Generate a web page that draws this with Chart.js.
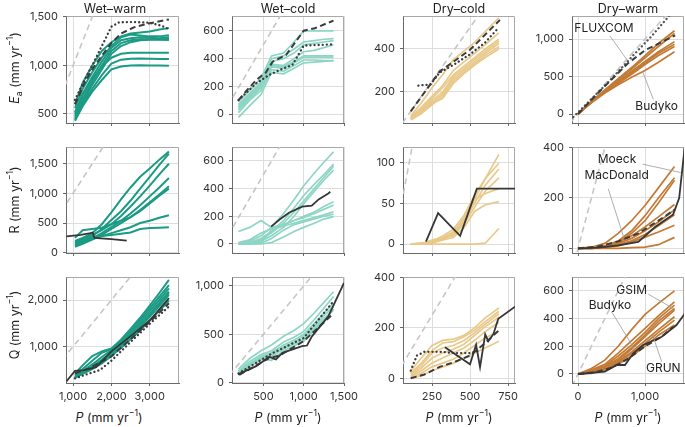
<!DOCTYPE html>
<html><head><meta charset="utf-8">
<script src="https://cdn.jsdelivr.net/npm/chart.js@4/dist/chart.umd.min.js"></script>
<style>
html,body{margin:0;padding:0;background:#fff;overflow:hidden;width:685px;height:427px;}
body{position:relative;font-family:Inter,'Open Sans','DejaVu Sans',sans-serif;color:#222;}
.cv{position:absolute;}
.t{position:absolute;font-size:12.5px;transform:translate(-50%,-50%);white-space:nowrap;}
.yl{position:absolute;font-size:12.5px;transform:translate(-50%,-50%) rotate(-90deg);white-space:nowrap;}
sup,sub{font-size:70%;line-height:0;}
</style></head><body>
<script>
// ---------- categories / ticks ----------
const COLUMNS = ['Wet\u2013warm','Wet\u2013cold','Dry\u2013cold','Dry\u2013warm'];
const X_TICKS = [[1000,2000,3000],[500,1000,1500],[250,500,750],[0,1000]];
const Y_TICKS = [
  [[500,1000,1500],[0,200,400,600],[200,400],[0,500,1000]],
  [[0,500,1000,1500],[0,200,400,600],[0,50,100],[0,200,400]],
  [[1000,2000],[0,500,1000],[0,200,400],[0,200,400,600]]
];
const X_RANGE = [[816,3763],[110,1500],[59,796],[-90,1582]];
const Y_RANGE = [
  [[407,1510],[-65,708],[56,553],[-120,1307]],
  [[-5,1783],[-65,700],[-11,119],[-18,402]],
  [[222,2493],[-3,1092],[-19,402],[-65,700]]
];

// ---------- P bins per climate ----------
const P_WW = [1050,1250,1500,1750,2000,2250,2500,2750,3000,3250,3500];
const P_WC = [190,330,470,600,750,880,1000,1130,1250,1370];
const P_DC = [110,180,250,320,390,460,530,600,690];
const P_DW = [0,200,400,600,800,1000,1200,1440];

// ---------- Ea ----------
const EA_WW = [
  [600,820,1000,1150,1240,1300,1330,1340,1350,1370,1385],
  [560,760,930,1080,1200,1290,1320,1310,1300,1300,1312],
  [520,710,880,1040,1180,1260,1280,1290,1285,1280,1290],
  [480,650,830,1000,1150,1230,1260,1270,1270,1270,1272],
  [460,620,800,960,1120,1200,1240,1260,1265,1265,1262],
  [500,690,860,990,1080,1120,1130,1132,1132,1132,1132],
  [440,600,760,900,1020,1060,1070,1072,1070,1066,1066],
  [430,580,730,850,960,990,1000,1002,1000,1000,998]
];
const EA_WW_DASH_P = [1050,1300,1500,1750,2000,2250,2600,3000,3500];
const EA_WW_DASH_V = [600,820,960,1100,1230,1330,1395,1435,1475];
const EA_WW_DOT_P = [1050,1300,1500,1750,2000,2200,2600,3000,3300,3500];
const EA_WW_DOT_V = [645,850,1000,1200,1400,1445,1448,1440,1410,1375];

const EA_WC = [
  [90,170,260,420,440,520,600,600,600,600],
  [70,150,230,400,420,470,520,530,540,545],
  [60,140,220,380,400,440,500,510,520,530],
  [50,130,210,360,350,400,450,460,480,500],
  [40,120,200,350,340,380,420,420,420,420],
  [30,110,190,340,330,370,410,410,410,410],
  [10,100,170,320,310,350,390,390,385,385],
  [-25,60,140,300,290,330,370,375,380,385]
];
const EA_WC_DASH_P = [190,290,410,530,615,780,1000,1140,1370];
const EA_WC_DASH_V = [100,168,245,300,378,426,602,620,675];
const EA_WC_DOT_P = [190,410,570,700,860,1000,1370];
const EA_WC_DOT_V = [100,221,282,318,355,494,503];

const EA_DC = [
  [90,150,220,280,350,390,430,480,545],
  [85,130,180,230,300,340,380,420,475],
  [80,120,170,220,280,320,360,400,445],
  [75,110,160,200,270,310,350,390,435],
  [80,115,150,190,260,300,340,380,425],
  [70,100,140,180,250,290,330,370,410],
  [75,105,145,170,240,285,325,360,400]
];
const EA_DC_DASH_P = [110,300,500,697];
const EA_DC_DASH_V = [110,295,396,535];
const EA_DC_DOT_P = [160,240,300,400,500,600,690];
const EA_DC_DOT_V = [230,235,290,330,375,430,500];

const EA_DW = [
  [0,170,320,470,620,780,940,1110],
  [0,165,310,460,600,750,900,1075],
  [0,160,300,440,570,700,830,965],
  [0,160,295,420,550,680,810,930],
  [0,155,290,410,530,660,780,900],
  [0,150,280,390,490,580,690,830]
];
const EA_DW_DASH_P = [0,250,500,750,1000,1250,1450];
const EA_DW_DASH_V = [0,235,460,680,850,960,1050];
const EA_DW_DOT_P = [-70,200,500,800,1100,1400];
const EA_DW_DOT_V = [-40,200,470,760,1040,1350];

// ---------- R ----------
const R_WW = [
  [200,250,330,480,680,900,1100,1280,1420,1570,1705],
  [150,200,280,400,550,700,880,1080,1280,1480,1670],
  [180,230,300,380,480,620,780,950,1130,1320,1500],
  [120,170,240,330,430,540,660,800,950,1100,1260],
  [100,150,220,300,400,500,600,720,850,980,1120],
  [250,380,400,420,480,540,600,700,830,960,1080],
  [130,170,230,280,330,380,430,500,540,590,633],
  [160,200,260,280,300,320,340,400,415,420,428]
];
const R_WW_SOLID_P = [830,1200,1450,1510,1560,2000,2400];
const R_WW_SOLID_V = [275,300,330,340,250,230,205];

const R_WC = [
  [90,120,170,120,140,170,200,230,270,305],
  [5,20,60,120,220,320,420,510,590,665],
  [0,10,40,90,170,260,350,430,500,576],
  [0,5,30,80,150,230,310,400,480,562],
  [0,0,20,60,120,200,290,380,460,533],
  [10,30,80,110,140,170,190,220,250,281],
  [0,5,10,100,130,150,170,190,210,233],
  [0,0,5,40,100,140,160,180,200,216],
  [0,0,0,10,50,90,120,150,180,197]
];
const R_WC_SOLID_P = [595,705,817,980,1100,1185,1305,1330];
const R_WC_SOLID_V = [125,178,226,269,276,322,365,377];

const R_DC = [
  [0,0,2,8,15,30,55,80,110],
  [0,1,3,10,18,35,60,80,99],
  [0,0,1,5,12,28,50,72,92],
  [0,0,5,8,10,25,45,65,81],
  [0,0,2,6,14,32,55,62,68],
  [0,1,3,5,8,20,40,48,52],
  [0,0,0,0,0,0,0,1,19]
];
const R_DC_SOLID_P = [210,290,435,545,800];
const R_DC_SOLID_V = [3,38,10,68,68];

const R_DW = [
  [0,5,20,60,110,170,240,325],
  [0,2,10,30,70,130,200,280],
  [0,0,5,25,60,110,180,270],
  [0,3,10,25,50,85,125,174],
  [0,0,5,20,40,70,105,153],
  [0,2,5,15,30,55,90,133],
  [0,0,3,10,25,45,65,92],
  [0,0,0,0,3,5,15,44]
];
const R_DW_SOLID_P = [0,300,600,900,1150,1420,1510,1600];
const R_DW_SOLID_V = [0,3,12,26,85,135,200,420];
const R_DW_DASH_P = [0,300,600,900,1200,1450];
const R_DW_DASH_V = [0,8,28,60,110,155];

// ---------- Q ----------
const Q_WW = [
  [420,600,800,900,960,1150,1380,1620,1880,2150,2430],
  [400,520,700,870,950,1120,1330,1570,1820,2070,2320],
  [380,480,620,780,930,1100,1300,1520,1760,2000,2250],
  [360,460,580,720,880,1060,1260,1470,1700,1940,2180],
  [340,440,550,680,840,1020,1220,1420,1640,1870,2110],
  [330,420,520,640,800,970,1160,1350,1560,1770,1990],
  [350,470,560,700,860,1040,1240,1450,1680,1920,2150]
];
const Q_WW_SOLID_P = [830,1050,1300,1600,2000,2600,3000,3500];
const Q_WW_SOLID_V = [260,480,500,560,900,1290,1560,2040];
const Q_WW_DASH_P = [1050,1400,2000,2500,3000,3500];
const Q_WW_DASH_V = [430,530,790,1160,1530,1930];
const Q_WW_DOT_P = [1050,1400,1700,2000,2500,3000,3500];
const Q_WW_DOT_V = [320,420,500,700,1100,1490,1860];

const Q_WC = [
  [140,250,330,390,480,540,610,720,830,940],
  [120,220,290,330,420,470,530,650,770,890],
  [110,200,270,310,390,440,500,610,720,820],
  [100,190,260,290,370,420,480,580,690,790],
  [90,180,250,270,350,400,450,560,660,750],
  [80,170,240,230,330,380,430,540,640,760]
];
const Q_WC_SOLID_P = [186,410,573,655,736,980,1041,1102,1305,1500];
const Q_WC_SOLID_V = [86,171,267,240,308,377,384,479,685,1030];
const Q_WC_DASH_P = [200,570,700,1000,1350];
const Q_WC_DASH_V = [80,255,280,430,700];
const Q_WC_DOT_P = [190,600,1000,1350];
const Q_WC_DOT_V = [96,300,462,822];

const Q_DC = [
  [30,80,130,150,155,170,200,240,279],
  [20,60,110,140,145,165,190,225,266],
  [15,50,100,120,130,150,180,215,256],
  [10,40,80,100,115,135,170,205,242],
  [5,30,60,80,100,120,150,185,222],
  [0,20,45,60,75,100,130,160,188],
  [0,10,30,45,60,80,100,120,147]
];
const Q_DC_SOLID_P = [335,500,540,566,600,620,653,686,796];
const Q_DC_SOLID_V = [123,55,133,44,174,147,174,236,284];
const Q_DC_DOT_P = [110,150,200,300,400,500,560];
const Q_DC_DOT_V = [30,90,105,105,100,100,110];
const Q_DC_DASH_P = [110,200,300,400,500,600,690];
const Q_DC_DASH_V = [0,15,45,65,90,140,190];

const Q_DW = [
  [0,40,100,200,320,430,510,600],
  [0,30,70,150,240,330,420,521],
  [0,25,60,130,210,300,400,497],
  [0,20,55,110,190,280,380,473],
  [0,15,50,100,180,270,360,461],
  [0,10,40,90,160,240,320,413],
  [0,10,35,80,150,220,300,389],
  [0,5,30,70,130,200,280,353]
];
const Q_DW_SOLID_P = [0,400,580,700,825,975,1250,1470,1600];
const Q_DW_SOLID_V = [0,17,65,65,149,209,269,353,440];
const Q_DW_DASH_P = [0,250,500,750,1000,1250,1420];
const Q_DW_DASH_V = [0,12,45,110,200,270,340];

// ---------- annotation labels (data coordinates) ----------
const ANN_EA_DW = [
  {text:'FLUXCOM', x:388, y:1143, x1:477, y1:1040, x2:726, y2:729},
  {text:'Budyko', x:1174, y:107, x1:1124, y1:196, x2:965, y2:564}
];
const ANN_R_DW = [
  {text:'Moeck', x:582, y:351, x1:965, y1:334, x2:1532, y2:301},
  {text:'MacDonald', x:577, y:290, x1:452, y1:236, x2:686, y2:41}
];
const ANN_Q_DW = [
  {text:'GSIM', x:801, y:605, x1:1049, y1:576, x2:1447, y2:466},
  {text:'Budyko', x:477, y:492, x1:502, y1:449, x2:835, y2:185},
  {text:'GRUN', x:1273, y:43, x1:1248, y1:89, x2:1114, y2:281}
];

// ---------- styling / layout ----------
const COLORS = ['#1b9a84','#8dd5c4','#e8c98a','#c27a35'];
const FONT = "Inter, 'Open Sans', 'DejaVu Sans', sans-serif";
const COL_L = [66,232,403,572], COL_R = [179,344,515,684];
const ROW_T = [16,147,277], ROW_B = [123,253,383];

const PANELS = [
  {r:0,c:0,p:P_WW,m:EA_WW,k:[[EA_WW_DASH_P,EA_WW_DASH_V,'dash'],[EA_WW_DOT_P,EA_WW_DOT_V,'dot']]},
  {r:0,c:1,p:P_WC,m:EA_WC,k:[[EA_WC_DASH_P,EA_WC_DASH_V,'dash'],[EA_WC_DOT_P,EA_WC_DOT_V,'dot']]},
  {r:0,c:2,p:P_DC,m:EA_DC,k:[[EA_DC_DASH_P,EA_DC_DASH_V,'dash'],[EA_DC_DOT_P,EA_DC_DOT_V,'dot']]},
  {r:0,c:3,p:P_DW,m:EA_DW,k:[[EA_DW_DASH_P,EA_DW_DASH_V,'dash'],[EA_DW_DOT_P,EA_DW_DOT_V,'dotg']],ann:ANN_EA_DW},
  {r:1,c:0,p:P_WW,m:R_WW,k:[[R_WW_SOLID_P,R_WW_SOLID_V,'solid']]},
  {r:1,c:1,p:P_WC,m:R_WC,k:[[R_WC_SOLID_P,R_WC_SOLID_V,'solid']]},
  {r:1,c:2,p:P_DC,m:R_DC,k:[[R_DC_SOLID_P,R_DC_SOLID_V,'solid']]},
  {r:1,c:3,p:P_DW,m:R_DW,k:[[R_DW_SOLID_P,R_DW_SOLID_V,'solid'],[R_DW_DASH_P,R_DW_DASH_V,'dash']],ann:ANN_R_DW},
  {r:2,c:0,p:P_WW,m:Q_WW,k:[[Q_WW_SOLID_P,Q_WW_SOLID_V,'solid'],[Q_WW_DASH_P,Q_WW_DASH_V,'dash'],[Q_WW_DOT_P,Q_WW_DOT_V,'dot']]},
  {r:2,c:1,p:P_WC,m:Q_WC,k:[[Q_WC_SOLID_P,Q_WC_SOLID_V,'solid'],[Q_WC_DASH_P,Q_WC_DASH_V,'dash'],[Q_WC_DOT_P,Q_WC_DOT_V,'dot']]},
  {r:2,c:2,p:P_DC,m:Q_DC,k:[[Q_DC_SOLID_P,Q_DC_SOLID_V,'solid'],[Q_DC_DASH_P,Q_DC_DASH_V,'dash'],[Q_DC_DOT_P,Q_DC_DOT_V,'dot']]},
  {r:2,c:3,p:P_DW,m:Q_DW,k:[[Q_DW_SOLID_P,Q_DW_SOLID_V,'solid'],[Q_DW_DASH_P,Q_DW_DASH_V,'dash']],ann:ANN_Q_DW}
];

const fmt = v => Number(v).toLocaleString('en-US');
const pts = (xs, ys) => xs.map((x,i) => ({x:x, y:ys[i]}));

const boxPlugin = {
  id:'box',
  beforeDatasetsDraw(chart){
    const a = chart.chartArea, ctx = chart.ctx;
    ctx.save(); ctx.strokeStyle = '#a8a8a8'; ctx.lineWidth = 1;
    ctx.beginPath();
    ctx.moveTo(Math.round(a.left)+0.5, Math.round(a.top)+0.5);
    ctx.lineTo(Math.round(a.right)-0.5, Math.round(a.top)+0.5);
    ctx.lineTo(Math.round(a.right)-0.5, Math.round(a.bottom));
    ctx.stroke(); ctx.restore();
  },
  afterDatasetsDraw(chart, args, opts){
    const list = opts.items || [];
    if (!list.length) return;
    const ctx = chart.ctx, xs = chart.scales.x, ys = chart.scales.y;
    ctx.save();
    ctx.strokeStyle = '#9a9a9a'; ctx.lineWidth = 0.8;
    list.forEach(a => {
      ctx.beginPath();
      ctx.moveTo(xs.getPixelForValue(a.x1), ys.getPixelForValue(a.y1));
      ctx.lineTo(xs.getPixelForValue(a.x2), ys.getPixelForValue(a.y2));
      ctx.stroke();
    });
    ctx.fillStyle = '#222'; ctx.font = '12px ' + FONT;
    ctx.textAlign = 'center'; ctx.textBaseline = 'middle';
    list.forEach(a => ctx.fillText(a.text, xs.getPixelForValue(a.x), ys.getPixelForValue(a.y)));
    ctx.restore();
  }
};

function makePanel(P){
  const r = P.r, c = P.c;
  const L = COL_L[c], R = COL_R[c], T = ROW_T[r], B = ROW_B[r];
  const padL = 4, yW = 42, padT = 6, padR = 16, padB = 2;
  const xH = r === 2 ? 22 : 6;
  const w = (R-L) + padL + yW + padR, h = (B-T) + padT + xH + padB;
  const cv = document.createElement('canvas');
  cv.className = 'cv';
  cv.width = w; cv.height = h;
  cv.style.width = w+'px'; cv.style.height = h+'px';
  cv.style.left = (L - padL - yW) + 'px'; cv.style.top = (T - padT) + 'px';
  document.body.appendChild(cv);

  const xr = X_RANGE[c], yr = Y_RANGE[r][c];
  const lo = Math.min(xr[0], yr[0]), hi = Math.max(xr[1], yr[1]);
  const ds = [];
  P.k.forEach(k => {
    const st = k[2];
    ds.push({
      data: pts(k[0], k[1]),
      borderColor: st === 'dotg' ? '#555' : (st === 'solid' ? '#363636' : '#3c3c3c'),
      borderWidth: st === 'solid' ? 1.8 : (st === 'dash' ? 2 : 2.3),
      borderDash: st === 'dash' ? [6,3.5] : (st === 'solid' ? [] : [0.1,4]),
      borderCapStyle: st === 'dash' || st === 'solid' ? 'butt' : 'round',
      pointRadius: 0, tension: 0, fill: false, order: 0
    });
  });
  P.m.forEach(v => {
    ds.push({
      data: pts(P.p, v), borderColor: COLORS[c],
      borderWidth: c === 0 ? 2 : 1.7, pointRadius: 0, tension: 0, fill: false, order: 1
    });
  });
  ds.push({
    data: [{x:lo, y:lo}, {x:hi, y:hi}], borderColor: '#c6c6c6', borderWidth: 1.6,
    borderDash: [6,4], pointRadius: 0, fill: false, order: 2
  });

  const tickFont = {family: FONT, size: 11};
  new Chart(cv, {
    type: 'line',
    data: {datasets: ds},
    options: {
      animation: false, responsive: false, events: [],
      layout: {padding: {left: padL, top: padT, right: padR, bottom: padB}},
      plugins: {legend: {display: false}, tooltip: {enabled: false}, title: {display: false},
                box: {items: P.ann || []}},
      scales: {
        x: {
          type: 'linear', min: xr[0], max: xr[1],
          afterBuildTicks: s => { s.ticks = X_TICKS[c].map(v => ({value: v})); },
          afterFit: s => { s.height = xH; s.paddingLeft = 0; s.paddingRight = 0; },
          grid: {color: '#dddddd', lineWidth: 1, tickColor: '#666', tickLength: 3, drawTicks: true},
          border: {display: true, color: '#6a6a6a', width: 1},
          ticks: {display: r === 2, font: tickFont, color: '#333', padding: 4, maxRotation: 0,
                  autoSkip: false, callback: v => fmt(v)}
        },
        y: {
          type: 'linear', min: yr[0], max: yr[1],
          afterBuildTicks: s => { s.ticks = Y_TICKS[r][c].map(v => ({value: v})); },
          afterFit: s => { s.width = yW; s.paddingTop = 0; s.paddingBottom = 0; },
          grid: {color: '#dddddd', lineWidth: 1, tickColor: '#666', tickLength: 3, drawTicks: true},
          border: {display: true, color: '#6a6a6a', width: 1},
          ticks: {font: tickFont, color: '#333', padding: 5, autoSkip: false, callback: v => fmt(v)}
        }
      }
    },
    plugins: [boxPlugin]
  });
}

PANELS.forEach(makePanel);

// ---------- text: titles and axis labels ----------
const TITLE_X = [115, 288, 459, 628];
const XLAB_X = [109, 288, 459, 628];
function addText(cls, html, x, y){
  const d = document.createElement('div'); d.className = cls; d.innerHTML = html;
  d.style.left = x + 'px'; d.style.top = y + 'px'; document.body.appendChild(d);
}
COLUMNS.forEach((t,i) => addText('t', t, TITLE_X[i], 8));
COLUMNS.forEach((t,i) => addText('t', '<i>P</i> (mm yr<sup>\u22121</sup>)', XLAB_X[i], 417));
addText('yl', '<i>E</i><sub>a</sub> (mm yr<sup>\u22121</sup>)', 14, 68);
addText('yl', 'R (mm yr<sup>\u22121</sup>)', 14, 200);
addText('yl', 'Q (mm yr<sup>\u22121</sup>)', 14, 325);
</script>
</body></html>
